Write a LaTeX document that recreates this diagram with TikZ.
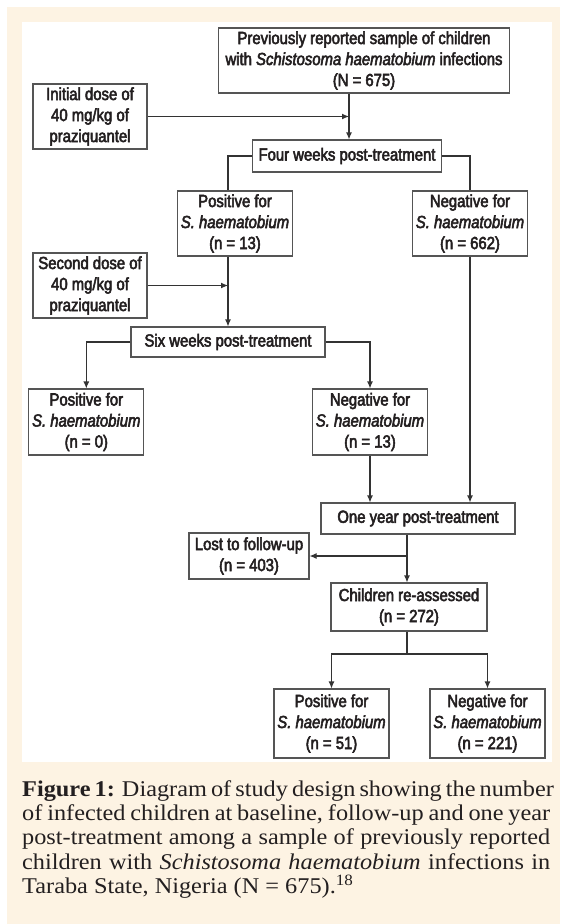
\documentclass[tikz,border=0pt]{standalone}
\usepackage{fontspec}
\setmainfont[FakeStretch=1.08]{Liberation Serif}
\newfontfamily\dsans[FakeStretch=0.85,FakeBold=3]{Liberation Sans}
\usetikzlibrary{arrows.meta}
\definecolor{cream}{HTML}{FDF3E3}
\definecolor{boxgray}{HTML}{555555}
\definecolor{linegray}{HTML}{333333}
\definecolor{txt}{HTML}{231F20}
\tikzset{
  stepbox/.style={draw=boxgray, line width=1.1pt, fill=white, inner sep=0pt, align=center,
    font=\dsans\fontsize{17.5}{21}\selectfont, text=txt},
  conn/.style={draw=linegray, line width=1.1pt},
  arr/.style={conn, -{Latex[length=7pt,width=6pt]}},
  capline/.style={anchor=base west, inner sep=0pt, font=\fontsize{22.5}{24}\selectfont, text=txt}
}
\begin{document}
\begin{tikzpicture}[x=1pt,y=-1pt]
\useasboundingbox (0,0) rectangle (560,924);
\fill[white] (0,0) rectangle (560,924);
\fill[cream] (7,7) rectangle (560,924);
\fill[white] (22,22) rectangle (552,762);

% boxes
\node[stepbox, minimum width=291.5pt, minimum height=65pt] (top) at (364,60.5)
  {Previously reported sample of children\\with \textit{Schistosoma haematobium} infections\\(N = 675)};
\node[stepbox, minimum width=114pt, minimum height=65pt] (init) at (90,116.5)
  {Initial dose of\\40 mg/kg of\\praziquantel};
\node[stepbox, minimum width=189.5pt, minimum height=32pt] (four) at (347,156)
  {Four weeks post-treatment};
\node[stepbox, minimum width=114.5pt, minimum height=65pt] (pos1) at (235,223.5)
  {Positive for\\\textit{S. haematobium}\\(n = 13)};
\node[stepbox, minimum width=114.5pt, minimum height=65pt] (neg1) at (470,223.5)
  {Negative for\\\textit{S. haematobium}\\(n = 662)};
\node[stepbox, minimum width=114pt, minimum height=65pt] (second) at (90,285.5)
  {Second dose of\\40 mg/kg of\\praziquantel};
\node[stepbox, minimum width=194pt, minimum height=30pt] (six) at (228,342)
  {Six weeks post-treatment};
\node[stepbox, minimum width=115pt, minimum height=66pt] (pos0) at (86.3,422)
  {Positive for\\\textit{S. haematobium}\\(n = 0)};
\node[stepbox, minimum width=114.5pt, minimum height=66pt] (neg13) at (370,422)
  {Negative for\\\textit{S. haematobium}\\(n = 13)};
\node[stepbox, minimum width=194pt, minimum height=31pt] (one) at (418,518.5)
  {One year post-treatment};
\node[stepbox, minimum width=120pt, minimum height=46pt] (lost) at (249,556)
  {Lost to follow-up\\(n = 403)};
\node[stepbox, minimum width=156pt, minimum height=48pt] (child) at (409,607)
  {Children re-assessed\\(n = 272)};
\node[stepbox, minimum width=115pt, minimum height=69pt] (pos51) at (331.5,723.5)
  {Positive for\\\textit{S. haematobium}\\(n = 51)};
\node[stepbox, minimum width=115pt, minimum height=69pt] (neg221) at (487.5,723.5)
  {Negative for\\\textit{S. haematobium}\\(n = 221)};

% connectors
\coordinate (vx) at (349,0);
\draw[arr] (top.south -| vx) -- (four.north -| vx);
\draw[arr] (init.east) -- (vx |- init.east);
\draw[conn] (four.west) -| (pos1.north -| six.north);
\draw[conn] (four.east) -| (neg1.north);
\draw[arr] (pos1.south -| six.north) -- (six.north);
\draw[arr] (second.east) -- (six.north |- second.east);
\draw[arr] (six.west) -| (pos0.north);
\draw[arr] (six.east) -| (neg13.north);
\draw[arr] (neg13.south) -- (neg13.south |- one.north);
\draw[arr] (neg1.south) -- (neg1.south |- one.north);
\coordinate (vy) at (407,0);
\draw[arr] (one.south -| vy) -- (child.north -| vy);
\draw[arr] (vy |- lost.east) -- (lost.east);
\draw[conn] (child.south -| vy) -- (407,654) coordinate (j);
\draw[arr] (j) -| (pos51.north);
\draw[arr] (j) -| (neg221.north);

% caption
\node[capline] (cap1) at (22,796.5) {\makebox[528pt][s]{\textbf{Figure 1:} Diagram of study design showing the number}};
\node[capline] (cap2) at (22,820.7) {\makebox[528pt][s]{of infected children at baseline, follow-up and one year}};
\node[capline] (cap3) at (22,844.9) {\makebox[528pt][s]{post-treatment among a sample of previously reported}};
\node[capline] (cap4) at (22,869.1) {\makebox[528pt][s]{children with \textit{Schistosoma haematobium} infections in}};
\node[capline] (cap5) at (22,893.3) {Taraba State, Nigeria (N = 675).\textsuperscript{18}};
\end{tikzpicture}
\end{document}
